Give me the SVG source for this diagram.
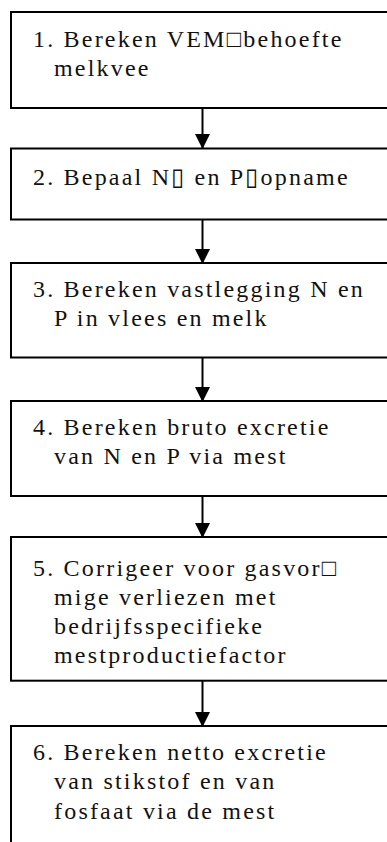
<svg xmlns="http://www.w3.org/2000/svg" width="387" height="842" viewBox="0 0 387 842">
<defs>
<marker id="ah" markerUnits="userSpaceOnUse" markerWidth="16" markerHeight="15" refX="15" refY="8" orient="auto" viewBox="0 0 16 16">
<polygon points="0,0 16,8 0,16" fill="#000"/>
</marker>
</defs>
<style>
.box{fill:#fff;stroke:#000;stroke-width:2}
.t{font-family:"Liberation Serif","Times New Roman",serif;font-size:24px;letter-spacing:2.2px;fill:#111}
.c{stroke:#000;stroke-width:2;fill:none}
</style>
<rect width="387" height="842" fill="#fff"/>
<g id="connectors">
<line class="c" x1="202.5" y1="104" x2="202.5" y2="148" marker-end="url(#ah)"/>
<line class="c" x1="202.5" y1="215" x2="202.5" y2="263" marker-end="url(#ah)"/>
<line class="c" x1="202.5" y1="353" x2="202.5" y2="401" marker-end="url(#ah)"/>
<line class="c" x1="202.5" y1="492" x2="202.5" y2="537" marker-end="url(#ah)"/>
<line class="c" x1="202.5" y1="673" x2="202.5" y2="726" marker-end="url(#ah)"/>
</g>
<g id="n1">
<rect class="box" x="11" y="12" width="400" height="96" fill="none"/>
<text class="t" x="33" y="46.7">1. Bereken VEM□behoefte</text>
<text class="t" x="54" y="76">melkvee</text>
</g>
<g id="n2">
<rect class="box" x="11" y="148.5" width="400" height="71"/>
<text class="t" x="33" y="185">2. Bepaal N▯ en P▯opname</text>
</g>
<g id="n3">
<rect class="box" x="11" y="263" width="400" height="94.5"/>
<text class="t" x="33" y="296.7">3. Bereken vastlegging N en</text>
<text class="t" x="54" y="326">P in vlees en melk</text>
</g>
<g id="n4">
<rect class="box" x="11" y="401" width="400" height="95"/>
<text class="t" x="33" y="435">4. Bereken bruto excretie</text>
<text class="t" x="54" y="464.3">van N en P via mest</text>
</g>
<g id="n5">
<rect class="box" x="11" y="537" width="400" height="143.7"/>
<text class="t" x="33" y="576">5. Corrigeer voor gasvor□</text>
<text class="t" x="54" y="605">mige verliezen met</text>
<text class="t" x="54" y="634">bedrijfsspecifieke</text>
<text class="t" x="54" y="662.7">mestproductiefactor</text>
</g>
<g id="n6">
<rect class="box" x="11" y="726" width="400" height="140"/>
<text class="t" x="33" y="760">6. Bereken netto excretie</text>
<text class="t" x="54" y="789">van stikstof en van</text>
<text class="t" x="54" y="819">fosfaat via de mest</text>
</g>
</svg>
